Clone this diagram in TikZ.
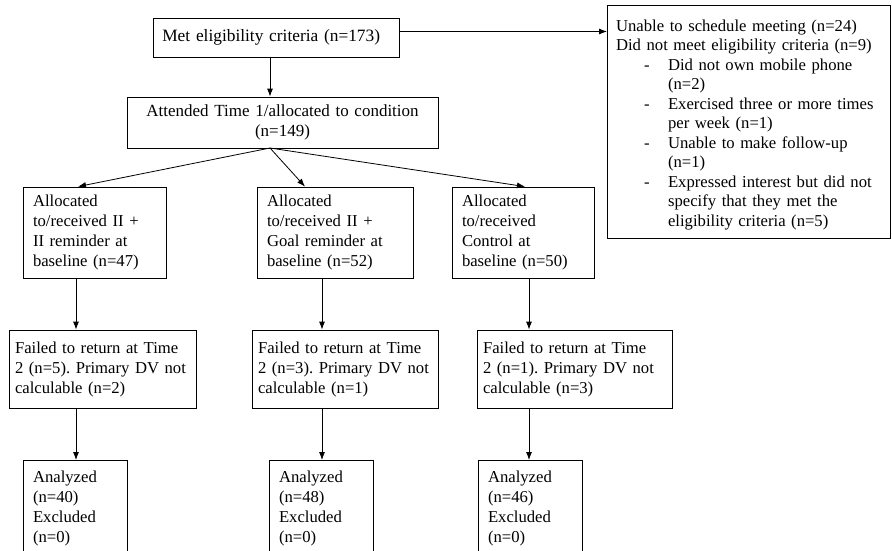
\documentclass[tikz,border=0pt]{standalone}
\usepackage{fontspec}
\setmainfont{Liberation Serif}
\usetikzlibrary{arrows.meta}
\frenchspacing
\newcommand{\dashitem}{\hspace*{21pt}\makebox[18pt][l]{-}}
\newcommand{\dashgap}{\hspace*{39pt}}
\tikzset{
  flowbox/.style = {draw, align=left, inner ysep=0pt, line width=0.6pt,
    font=\fontsize{12.5}{15}\selectfont},% plain box of the flow
  allocbox/.style = {flowbox, inner xsep=7.5pt, text width=#1,
    minimum height=68.25pt},% one box per condition
  failbox/.style = {flowbox, inner xsep=4.5pt, text width=#1,
    minimum height=58.5pt},% losses at time 2
  anbox/.style = {flowbox, anchor=north, inner xsep=7.5pt, inner ysep=8pt,
    text width=63pt},% analysed sample, runs off the page
  flowarrow/.style = {-{Latex[length=6pt,width=4.5pt]}, line width=0.6pt},
}
\begin{document}
\begin{tikzpicture}[x=0.75pt, y=-0.75pt]
\useasboundingbox (0,0) rectangle (892,550);
\clip (0,0) rectangle (892,550);
% enrolment
\node [flowbox, inner xsep=7pt, text width=170.5pt, minimum height=29.25pt,
  font=\fontsize{13}{15}\selectfont] (met) at (276,37.5)
  {Met eligibility criteria (n=173)};
\node [flowbox, align=center, inner xsep=5pt, text width=223.25pt, minimum height=38.25pt,
  font=\fontsize{12.75}{15}\selectfont] (attended) at (282.5,122.5)
  {Attended Time 1/allocated to condition\\(n=149)};
\node [flowbox, anchor=north west, inner xsep=6.5pt, text width=199.25pt, minimum height=174.75pt,
  font=\fontsize{12.5}{14.6}\selectfont] (excluded) at (607,5)
  {\rule{0pt}{13pt}Unable to schedule meeting (n=24)\\
   Did not meet eligibility criteria (n=9)\\
   \dashitem Did not own mobile phone\\
   \dashgap (n=2)\\
   \dashitem Exercised three or more times\\
   \dashgap per week (n=1)\\
   \dashitem Unable to make follow-up\\
   \dashgap (n=1)\\
   \dashitem Expressed interest but did not\\
   \dashgap specify that they met the\\
   \dashgap eligibility criteria (n=5)};
% allocation
\node [allocbox=92.25pt] (allocA) at (94.5,232.5) {Allocated\\to/received II +\\II reminder at\\baseline (n=47)};
\node [allocbox=102pt] (allocB) at (335,232.5) {Allocated\\to/received II +\\Goal reminder at\\baseline (n=52)};
\node [allocbox=91.5pt] (allocC) at (523,232.5) {Allocated\\to/received\\Control at\\baseline (n=50)};
% follow-up
\node [failbox=131.25pt] (failA) at (102.5,369) {Failed to return at Time\\2 (n=5). Primary DV not\\calculable (n=2)};
\node [failbox=130.5pt] (failB) at (345,369) {Failed to return at Time\\2 (n=3). Primary DV not\\calculable (n=1)};
\node [failbox=137.25pt] (failC) at (574.5,369) {Failed to return at Time\\2 (n=1). Primary DV not\\calculable (n=3)};
% analysis
\node [anbox] (anA) at (75,460) {Analyzed\\(n=40)\\Excluded\\(n=0)};
\node [anbox] (anB) at (321,460) {Analyzed\\(n=48)\\Excluded\\(n=0)};
\node [anbox] (anC) at (530,460) {Analyzed\\(n=46)\\Excluded\\(n=0)};
% connectors
\coordinate (split) at (270,148);
\coordinate (mettap) at ([yshift=4.5pt]met.east);
\draw [flowarrow] (met.south -| split) -- (attended.north -| split);
\draw [flowarrow] (mettap) -- (mettap -| excluded.west);
\draw [flowarrow] (split) -- ([xshift=-12.4pt]allocA.north);
\draw [flowarrow] (split) -- ([xshift=-22.5pt]allocB.north);
\draw [flowarrow] (split) -- ([xshift=1.5pt]allocC.north);
\foreach \c/\x in {A/76,B/322,C/529}{
  \coordinate (col\c) at (\x,0);
  \draw [flowarrow] (alloc\c.south -| col\c) -- (fail\c.north -| col\c);
  \draw [flowarrow] (fail\c.south -| col\c) -- (an\c.north -| col\c);
}
\end{tikzpicture}
\end{document}
